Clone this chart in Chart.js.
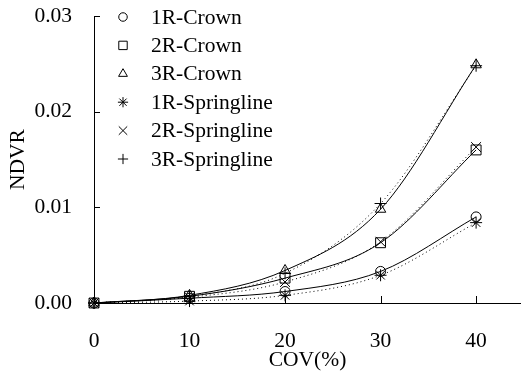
<!DOCTYPE html>
<html><head><meta charset="utf-8">
<script src="https://cdn.jsdelivr.net/npm/chart.js@4/dist/chart.umd.min.js"></script>
<style>html,body{margin:0;padding:0;background:#fff;overflow:hidden}</style>
</head><body>
<canvas id="c" width="521" height="377"></canvas>
<script>
const categories = [0, 10, 20, 30, 40];
const seriesNames = ['1R-Crown', '2R-Crown', '3R-Crown', '1R-Springline', '2R-Springline', '3R-Springline'];
const crown1R = [0, 0.0005, 0.0012, 0.0033, 0.0090];
const crown2R = [0, 0.0007, 0.0026, 0.0063, 0.0160];
const crown3R = [0, 0.0008, 0.0034, 0.0098, 0.0249];
const spring1R = [0, 0.0002, 0.0008, 0.0029, 0.0084];
const spring2R = [0, 0.0006, 0.0022, 0.0064, 0.0163];
const spring3R = [0, 0.0007, 0.0031, 0.0104, 0.0248];
const xTickLabels = [0, 10, 20, 30, 40];
const yTickLabels = [0, 0.01, 0.02, 0.03];

const FONT = 'Liberation Serif';
const FSIZE = 21.5;
const seriesValues = [crown1R, crown2R, crown3R, spring1R, spring2R, spring3R];
const markerStyles = ['circle', 'rect', 'triangle', 'star', 'crossRot', 'cross'];
const markerRadius = [5, 7, 6, 6, 7, 6];

const datasets = seriesValues.map((vals, i) => ({
  label: seriesNames[i],
  data: categories.map((x, j) => ({x: x, y: vals[j]})),
  showLine: true,
  borderColor: '#000',
  backgroundColor: 'rgba(0,0,0,0)',
  borderWidth: 1,
  borderDash: i < 3 ? [] : [1, 3],
  cubicInterpolationMode: 'monotone',
  pointStyle: markerStyles[i],
  pointRadius: markerRadius[i],
  pointBorderColor: '#000',
  pointBackgroundColor: 'rgba(0,0,0,0)',
  pointBorderWidth: 1,
  clip: false
}));

const inwardTicks = {
  id: 'inwardTicks',
  afterDatasetsDraw(chart) {
    const ctx = chart.ctx, xs = chart.scales.x, ys = chart.scales.y;
    ctx.save();
    ctx.strokeStyle = '#000';
    ctx.lineWidth = 1;
    ctx.beginPath();
    xTickLabels.forEach(v => {
      if (v === 0) return;
      const px = Math.round(xs.getPixelForValue(v)) + 0.5;
      ctx.moveTo(px, ys.bottom);
      ctx.lineTo(px, ys.bottom - 7);
    });
    yTickLabels.forEach(v => {
      if (v === 0) return;
      const py = Math.round(ys.getPixelForValue(v)) + 0.5;
      ctx.moveTo(xs.left, py);
      ctx.lineTo(xs.left + 6, py);
    });
    ctx.stroke();
    ctx.restore();
  }
};

const legendPlugin = {
  id: 'customLegend',
  afterDraw(chart) {
    const ctx = chart.ctx;
    ctx.save();
    ctx.font = FSIZE + 'px "' + FONT + '"';
    ctx.textBaseline = 'middle';
    ctx.textAlign = 'left';
    seriesNames.forEach((name, i) => {
      const y = 17 + i * 28.4;
      ctx.strokeStyle = '#000';
      ctx.fillStyle = 'rgba(0,0,0,0)';
      ctx.lineWidth = 1;
      Chart.helpers.drawPoint(ctx, {pointStyle: markerStyles[i], radius: markerRadius[i] * 0.85, rotation: 0, borderWidth: 1}, 123, y);
      ctx.fillStyle = '#000';
      ctx.fillText(name, 151, y + 1);
    });
    ctx.restore();
  }
};

new Chart(document.getElementById('c'), {
  type: 'scatter',
  data: {datasets},
  options: {
    responsive: false,
    animation: false,
    devicePixelRatio: 1,
    layout: {autoPadding: false, padding: {top: 16, right: 0, left: 0, bottom: 0}},
    plugins: {legend: {display: false}, tooltip: {enabled: false}},
    scales: {
      x: {
        type: 'linear', min: 0, max: 44.7,
        afterFit(s) { s.height = 74; s.paddingRight = 0; s.paddingLeft = 0; s.paddingTop = 0; s.paddingBottom = 0; },
        ticks: {stepSize: 10, includeBounds: false, color: '#000', font: {family: FONT, size: FSIZE}, padding: 25, maxRotation: 0,
          callback: v => String(v)},
        grid: {drawOnChartArea: false, drawTicks: false},
        border: {color: '#000', width: 1},
        title: {display: true, text: 'COV(%)', color: '#000', font: {family: FONT, size: FSIZE}, padding: {top: 0, bottom: 4}}
      },
      y: {
        type: 'linear', min: 0, max: 0.03,
        afterFit(s) { s.width = 94; s.paddingTop = 0; s.paddingBottom = 0; s.paddingLeft = 0; s.paddingRight = 0; },
        ticks: {stepSize: 0.01, color: '#000', font: {family: FONT, size: FSIZE}, padding: 22,
          callback: v => v.toFixed(2)},
        grid: {drawOnChartArea: false, drawTicks: false},
        border: {color: '#000', width: 1},
        title: {display: true, text: 'NDVR', color: '#000', font: {family: FONT, size: FSIZE}, padding: {top: 5, bottom: 0}}
      }
    }
  },
  plugins: [inwardTicks, legendPlugin]
});
</script>
</body></html>
